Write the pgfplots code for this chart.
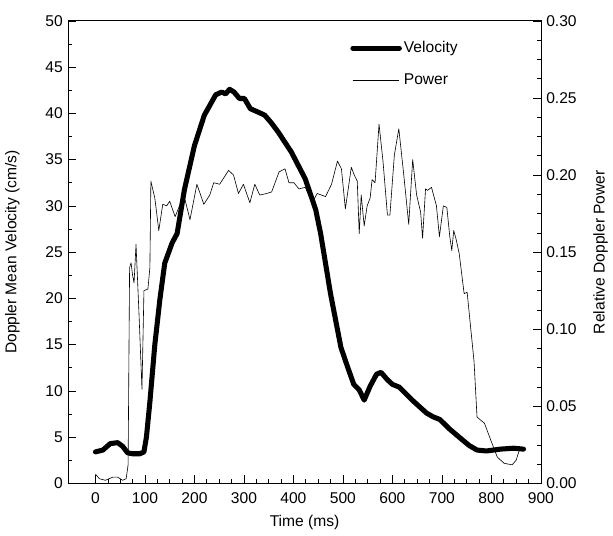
\documentclass[border=0pt]{standalone}
\usepackage{fontspec}
\setmainfont{Liberation Sans}
\usepackage{pgfplots}
\pgfplotsset{compat=1.18}
\begin{document}
\fontsize{15.5}{18}\selectfont
\begin{tikzpicture}
\pgfplotsset{
  every axis/.append style={
    width=468bp, height=458bp, scale only axis,
    xmin=-55, xmax=900,
    tick align=inside,
    major tick length=8bp, minor tick length=4bp,
    /pgf/number format/assume math mode=true,
    tick label style={font=\fontsize{15.5}{18}\selectfont},
    label style={font=\fontsize{15.5}{18}\selectfont},
    every tick/.style={black, line width=0.6pt},
    axis line style={line width=0.7pt},
  }
}
\begin{axis}[
  ymin=0, ymax=50,
  xtick={0,100,...,900}, minor x tick num=3,
  ytick={0,5,...,50}, minor y tick num=1,
  xtick pos=bottom, ytick pos=left,
  xticklabel style={yshift=-4bp},
  xlabel={Time (ms)},
  ylabel={Doppler Mean Velocity (cm/s)},
  xlabel style={yshift=-1bp},
  ylabel style={yshift=15bp},
  legend style={draw=none, fill=none, at={(0.835,0.965)}, anchor=north east,
    font=\fontsize{15.5}{18}\selectfont, row sep=15bp, cells={anchor=west}},
  legend image code/.code={\draw[#1] (0bp,0bp) -- (46bp,0bp);},
]
\addplot[black, line width=5bp, line join=round, line cap=round] coordinates {
(0,3.4) (15,3.6) (30,4.3) (45,4.4) (55,4.0) (65,3.3) (75,3.2) (90,3.2) (98,3.4)
(103,5) (110,8.8) (120,15) (130,19.8) (140,23.8) (155,26) (165,27) (180,31.8)
(200,36.5) (220,39.8) (243,42) (255,42.3) (263,42.1) (271,42.6) (280,42.3) (291,41.6)
(301,41.6) (313,40.5) (330,40.1) (342,39.8) (355,39) (369,38) (396,35.8)
(424,32.9) (445,29.6) (455,27) (475,20.5) (496,14.7) (510,12.5) (522,10.7)
(533,10.1) (543,9) (555,10.5) (568,11.8) (577,12) (590,11.2) (600,10.7)
(614,10.4) (640,9) (669,7.6) (682,7.2) (696,6.9) (715,5.9) (737,4.9)
(755,4.1) (771,3.6) (790,3.5) (818,3.7) (845,3.8) (865,3.7)
};
\addlegendentry{Velocity}
\addlegendimage{black, line width=0.6bp}
\addlegendentry{Power}
\end{axis}
\begin{axis}[
  ymin=0, ymax=0.30,
  axis x line=none, axis y line*=right,
  ytick={0,0.05,...,0.30}, minor y tick num=3,
  yticklabel style={/pgf/number format/.cd, fixed, fixed zerofill, precision=2},
  ylabel={Relative Doppler Power},
  ylabel style={yshift=-6bp},
]
\addplot[black, line width=0.6bp, line join=round] coordinates {
(0,0.006) (8,0.003) (20,0.002) (35,0.004) (45,0.004) (55,0.002) (62,0.003)
(66,0.012) (69,0.140) (72,0.143) (75,0.135) (78,0.130) (82,0.155) (88,0.110)
(94,0.061) (98,0.125) (106,0.126) (110,0.140) (112,0.196) (120,0.185)
(128,0.164) (136,0.181) (144,0.180) (150,0.183) (161,0.173) (171,0.181)
(181,0.184) (191,0.171) (205,0.194) (219,0.181) (231,0.187) (239,0.195)
(251,0.194) (269,0.203) (279,0.200) (289,0.188) (299,0.194) (312,0.182)
(322,0.194) (332,0.187) (346,0.188) (356,0.189) (371,0.202) (383,0.204)
(391,0.195) (401,0.195) (411,0.191) (424,0.192) (438,0.182) (448,0.188)
(465,0.186) (477,0.194) (489,0.209) (497,0.204) (505,0.178) (517,0.205)
(523,0.200) (529,0.196) (533,0.162) (537,0.187) (543,0.167) (549,0.180)
(555,0.185) (559,0.197) (565,0.195) (573,0.233) (581,0.209) (590,0.174)
(595,0.174) (604,0.213) (613,0.230) (623,0.200) (633,0.168) (641,0.210)
(649,0.187) (657,0.176) (661,0.159) (667,0.191) (671,0.190) (679,0.192)
(689,0.180) (695,0.160) (703,0.180) (710,0.179) (716,0.160) (720,0.151)
(724,0.164) (729,0.158) (735,0.149) (745,0.123) (751,0.124) (765,0.079)
(771,0.043) (786,0.039) (800,0.027) (812,0.017) (826,0.013) (842,0.012)
(850,0.015) (858,0.023)
};
\end{axis}
\path (current bounding box.north) ++(0,10bp) coordinate (topmargin);
\end{tikzpicture}
\end{document}
